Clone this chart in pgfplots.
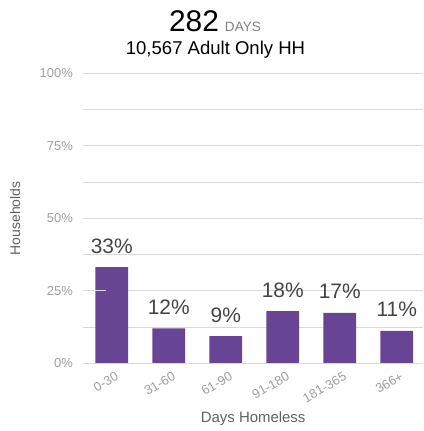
\documentclass[border=0pt]{standalone}
\usepackage{pgfplots}
\pgfplotsset{compat=1.18}
\usepackage{fontspec}
\setmainfont{Liberation Sans}

\definecolor{barpurple}{HTML}{674494}
\definecolor{gridgray}{HTML}{D9D9D9}
\definecolor{ticktext}{HTML}{9E9E9E}
\definecolor{labeltext}{HTML}{616161}
\definecolor{valtext}{HTML}{444444}

\begin{document}
\begin{tikzpicture}
\path (0,0) rectangle (423bp,431bp);
\begin{axis}[
    at={(83.3bp,67.7bp)}, anchor=south west,
    width=339.7bp, height=290bp, scale only axis,
    ybar, bar width=0.575,
    xmin=-0.5, xmax=5.46,
    ymin=0, ymax=100,
    axis line style={draw=none},
    xtick={0,1,2,3,4,5},
    xticklabels={0-30,31-60,61-90,91-180,181-365,366+},
    xticklabel style={rotate=30, anchor=north east, font=\fontsize{13}{13}\selectfont,
      text=ticktext, xshift=2bp, yshift=-5bp},
    ytick={0,25,50,75,100},
    minor ytick={12.5,37.5,62.5,87.5},
    yticklabel={\pgfmathprintnumber{\tick}\%},
    /pgf/number format/assume math mode=true,
    yticklabel style={font=\fontsize{13}{13}\selectfont, text=ticktext, xshift=-7bp},
    major tick length=0pt, minor tick length=0pt,
    ymajorgrids, yminorgrids,
    major grid style={draw=gridgray, line width=0.8pt},
    minor grid style={draw=gridgray, line width=0.8pt},
    xlabel={Days Homeless},
    xlabel style={at={(axis description cs:0.5,-0.19)}, anchor=center,
      font=\fontsize{15}{15}\selectfont, text=labeltext},
    ylabel={Households},
    ylabel style={at={(axis description cs:-0.201,0.5)}, anchor=center,
      font=\fontsize{14}{14}\selectfont, text=labeltext},
    nodes near coords={\pgfmathprintnumber[fixed,precision=0]{\pgfplotspointmeta}\%},
    every node near coord/.append style={anchor=base, yshift=14bp,
      font=\fontsize{21}{21}\selectfont, text=valtext},
]
\addplot[fill=barpurple, draw=none] coordinates {
  (0,33.2) (1,12.0) (2,9.4) (3,18.0) (4,17.4) (5,11.2)};
% baseline and tick marks
\draw[gridgray, line width=0.8pt] (axis cs:-0.5,0) -- (axis cs:5.46,0);
\pgfplotsinvokeforeach{-0.5,0.5,1.5,2.5,3.5,4.5}{
  \draw[gridgray, line width=0.8pt] (axis cs:#1,0) -- ++(0,-7bp);}
\pgfplotsinvokeforeach{0,25,50,75,100}{
  \draw[gridgray, line width=0.8pt] (axis cs:-0.5,#1) -- ++(-6bp,0);}
\end{axis}
\node[anchor=base] at (215bp,399.3bp)
  {{\fontsize{30}{30}\selectfont 282}\hspace{6bp}{\fontsize{13.6}{14}\selectfont\color{gray}DAYS}};
\node[anchor=base] at (215.5bp,376bp)
  {\fontsize{18.6}{19}\selectfont 10,567 Adult Only HH};
\end{tikzpicture}
\end{document}
